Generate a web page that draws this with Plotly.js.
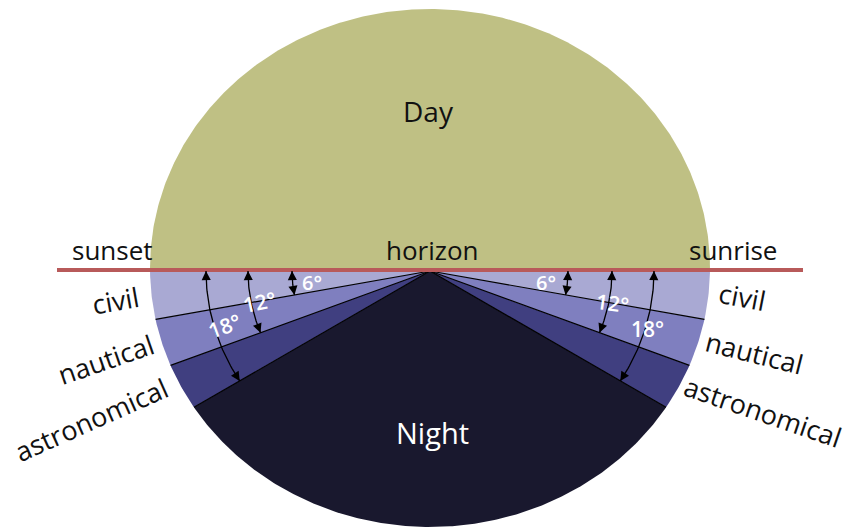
<!DOCTYPE html>
<html><head><meta charset="utf-8">
<script src="https://cdn.plot.ly/plotly-3.0.1.min.js"></script>
<style>html,body{margin:0;padding:0;background:#fff;overflow:hidden}</style>
</head><body><div id="chart" style="width:849px;height:527px"></div>
<script>
// ---- data ----
const twilightNames = ['civil', 'nautical', 'astronomical'];
const depressionAngles = [6, 12, 18];          // degrees of sun below horizon
const angleLabels = ['6°', '12°', '18°'];
const regionNames = ['Day', 'Night'];
const horizonLabels = ['sunset', 'horizon', 'sunrise'];

// ---- styles / geometry ----
const dayColor = '#bfc084';
const nightColor = '#19182e';
const bandColors = ['#a9a9d3', '#7f7fbf', '#403f80'];
const horizonColor = '#b85a5a';
const CX = 430, CY = 268, RX = 280, RY = 259;   // disc
const VX = 430, VY = 271;                       // observer on horizon
const EXAG = 5 / 3;                             // angles drawn exaggerated
const arrowRadii = [138, 182, 224];
const SQ = 0.93;
const FONT = 'Open Sans, sans-serif';

function edge(aDeg) {
  const a = aDeg * Math.PI / 180, dx = Math.cos(a), dy = Math.sin(a);
  const ox = VX - CX, oy = VY - CY;
  const A = (dx / RX) ** 2 + (dy / RY) ** 2;
  const B = 2 * (ox * dx / RX ** 2 + oy * dy / RY ** 2);
  const C = (ox / RX) ** 2 + (oy / RY) ** 2 - 1;
  const t = (-B + Math.sqrt(B * B - 4 * A * C)) / (2 * A);
  return [VX + t * dx, VY + t * dy];
}
function sector(a0, a1, color, name) {
  const xs = [VX], ys = [VY], N = Math.max(4, Math.ceil(Math.abs(a1 - a0) * 2));
  for (let i = 0; i <= N; i++) {
    const p = edge(a0 + (a1 - a0) * i / N);
    xs.push(p[0]); ys.push(p[1]);
  }
  xs.push(VX); ys.push(VY);
  return {x: xs, y: ys, mode: 'lines', fill: 'toself', fillcolor: color,
          line: {width: 0, color: color}, hoverinfo: 'skip', name: name, showlegend: false};
}

const traces = [];
traces.push(sector(180, 360, dayColor, regionNames[0]));
const last = EXAG * depressionAngles[depressionAngles.length - 1];
traces.push(sector(last, 180 - last, nightColor, regionNames[1]));
depressionAngles.forEach((d, k) => {
  const prev = k === 0 ? 0 : depressionAngles[k - 1];
  traces.push(sector(EXAG * prev, EXAG * d, bandColors[k], twilightNames[k]));
  traces.push(sector(180 - EXAG * d, 180 - EXAG * prev, bandColors[k], twilightNames[k]));
});
// boundary lines
depressionAngles.forEach(d => {
  [EXAG * d, 180 - EXAG * d].forEach(a => {
    const p = edge(a);
    traces.push({x: [VX, p[0]], y: [VY, p[1]], mode: 'lines',
      line: {color: '#000', width: 1.2}, hoverinfo: 'skip', showlegend: false});
  });
});
// horizon line
traces.push({x: [57, 803], y: [270, 270], mode: 'lines',
  line: {color: horizonColor, width: 4}, hoverinfo: 'skip', showlegend: false});

// angle arcs with arrows
const annotations = [];
function arcPt(s, r, th) { return [VX + s * r * Math.cos(th), VY + SQ * r * Math.sin(th)]; }
depressionAngles.forEach((d, k) => {
  const r = arrowRadii[k];
  const aEnd = EXAG * d * Math.PI / 180;
  const thEnd = Math.atan(Math.tan(aEnd) / SQ);
  [-1, 1].forEach(s => {
    const xs = [], ys = [];
    const N = 40;
    for (let i = 0; i <= N; i++) {
      const p = arcPt(s, r, thEnd * i / N);
      xs.push(p[0]); ys.push(p[1]);
    }
    traces.push({x: xs, y: ys, mode: 'lines', line: {color: '#000', width: 1.3},
      hoverinfo: 'skip', showlegend: false});
    const back = 10 / r;
    const ends = [[0, Math.min(back, thEnd / 2)], [thEnd, Math.max(thEnd - back, thEnd / 2)]];
    ends.forEach(([th, thTail]) => {
      const h = arcPt(s, r, th), t = arcPt(s, r, thTail);
      annotations.push({x: h[0], y: h[1], ax: t[0], ay: t[1], axref: 'x', ayref: 'y',
        xref: 'x', yref: 'y', text: '', showarrow: true, arrowhead: 2,
        arrowsize: 1.4, arrowwidth: 1.3, arrowcolor: '#000', standoff: 0, startstandoff: 0});
    });
  });
});

function label(text, x, y, size, color, angle, weight) {
  annotations.push({x: x, y: y, xref: 'x', yref: 'y', text: text, showarrow: false,
    textangle: angle || 0, xanchor: 'center', yanchor: 'middle',
    font: {family: FONT, size: size, color: color, weight: weight || 400}});
}
label(regionNames[0], 428, 111, 28, '#111');
label(regionNames[1], 432, 432, 29, '#fff');
label(horizonLabels[0], 112, 250, 26, '#111');
label(horizonLabels[1], 432, 250, 26, '#111');
label(horizonLabels[2], 733, 250, 26, '#111');
// left side twilight names
label(twilightNames[0], 115, 300, 27, '#111', -10);
label(twilightNames[1], 105, 359, 27, '#111', -19);
label(twilightNames[2], 91, 419, 27, '#111', -24);
// right side twilight names
label(twilightNames[0], 742, 296, 27, '#111', 11);
label(twilightNames[1], 754, 352, 27, '#111', 14);
label(twilightNames[2], 763, 411, 27, '#111', 19);
// degree labels
label(angleLabels[0], 312, 282, 20, '#fff', 0, 600);
label(angleLabels[1], 259, 302, 21, '#fff', -12, 600);
label(angleLabels[2], 224, 326, 21, '#fff', -20, 600);
label(angleLabels[0], 546, 282, 20, '#fff', 0, 600);
label(angleLabels[1], 612, 303, 21, '#fff', 8, 600);
label(angleLabels[2], 647, 329, 21, '#fff', 0, 600);

const layout = {
  width: 849, height: 527, margin: {l: 0, r: 0, t: 0, b: 0},
  paper_bgcolor: '#fff', plot_bgcolor: '#fff', showlegend: false,
  xaxis: {range: [0, 849], visible: false, fixedrange: true},
  yaxis: {range: [527, 0], visible: false, fixedrange: true},
  annotations: annotations
};
Plotly.newPlot('chart', traces, layout, {staticPlot: true, displayModeBar: false});
</script>
</body></html>
